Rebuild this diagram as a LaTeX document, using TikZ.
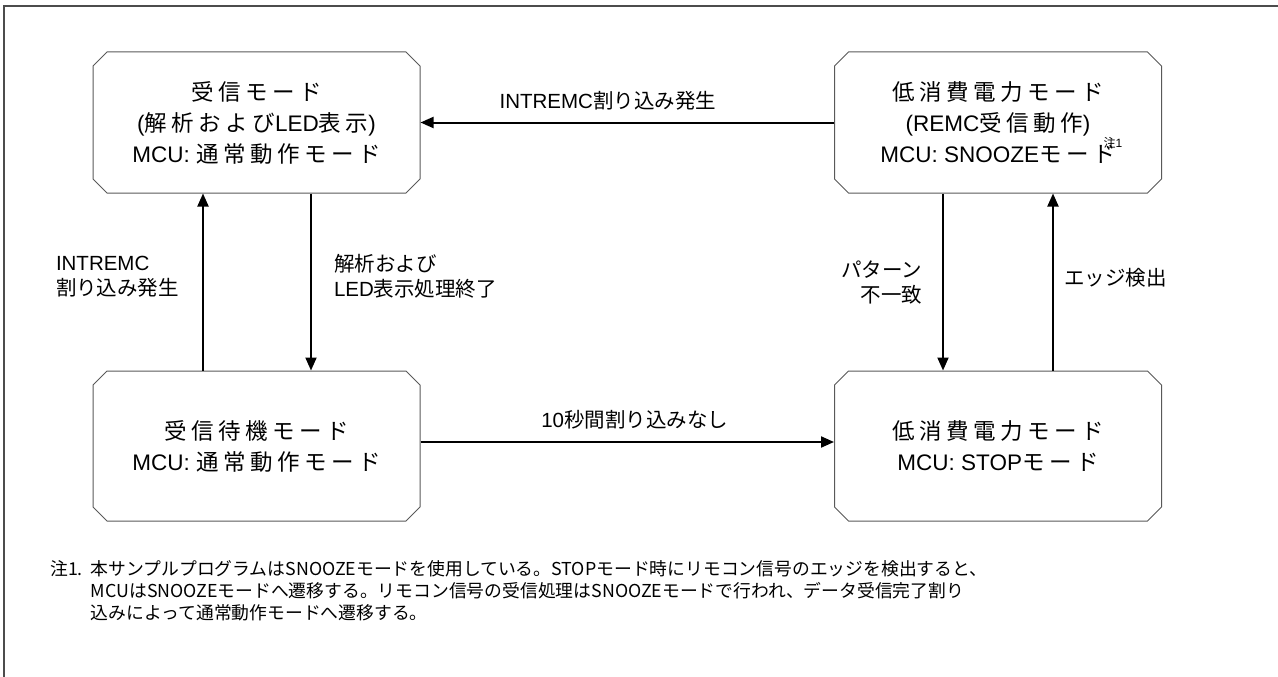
\documentclass[tikz,border=0pt]{standalone}
\usepackage{fontspec}
\setmainfont{Noto Sans CJK JP}
\newfontfamily\modefont[LetterSpace=20]{Noto Sans CJK JP}
\newfontfamily\lat{Liberation Sans}
\usetikzlibrary{shapes.misc,arrows.meta,positioning}

\tikzset{
  mode/.style={chamfered rectangle, chamfered rectangle xsep=7pt, chamfered rectangle ysep=7pt,
    draw=black!65, line width=1pt, minimum width=327pt, minimum height=141pt, inner sep=0pt,
    align=center, font=\modefont\fontsize{22.5}{31}\selectfont},
  trans/.style={line width=2pt, -{Triangle[length=13pt,width=11pt]}},
  lbl/.style={font=\fontsize{20.5}{25}\selectfont, inner sep=0pt},
}

\begin{document}
\begin{tikzpicture}[x=1pt,y=-1pt]
		\useasboundingbox (0,0) rectangle (1278,677);
		\draw[black!70, line width=2pt] (4,677) -- (4,6) -- (1278,6);
		% states
		\node[mode] (rx) at (256.5,122.5) {受信モード\\{\lat(}解析および{\lat LED}表示{\lat)}\\{\lat MCU: }通常動作モード};
		\node[mode] (snooze) at (998,122.5) {低消費電力モード\\{\lat(REMC}受信動作{\lat)}\\{\lat MCU: SNOOZE}モード\rlap{\kern-12pt\raisebox{15pt}{\fontsize{12}{12}\selectfont 注{\lat 1}}}};
		\node[mode, minimum height=150pt] (wait) at (256.5,446) {受信待機モード\\{\lat MCU: }通常動作モード};
		\node[mode, minimum height=150pt] (stop) at (998,446) {低消費電力モード\\{\lat MCU: STOP}モード};
		% transitions
		\draw[trans] (snooze.west) -- (rx.east) node[lbl, pos=0.547, yshift=22pt] (intA) {{\lat INTREMC}割り込み発生};
		\draw[trans] ([yshift=4pt]wait.east) -- ([yshift=4pt]stop.west) node[lbl, pos=0.518, yshift=22pt] (tmo) {{\lat 10}秒間割り込みなし};
		\draw[trans] ([xshift=-53.5pt]wait.north) -- ([xshift=-53.5pt]rx.south) node[lbl, pos=0.528, left=23pt, align=left] (intB) {{\lat INTREMC}\\割り込み発生};
		\draw[trans] ([xshift=54.5pt]rx.south) -- ([xshift=54.5pt]wait.north) node[lbl, pos=0.47, right=22pt, align=left] (done) {解析および\\{\lat LED}表示処理終了};
		\draw[trans] ([xshift=-55pt]snooze.south) -- ([xshift=-55pt]stop.north) node[lbl, pos=0.5, left=20pt, align=right] (nomatch) {パターン\\不一致};
		\draw[trans] ([xshift=55pt]stop.north) -- ([xshift=55pt]snooze.south) node[lbl, pos=0.525, right=10pt] (edge) {エッジ検出};
		% note
		\node[anchor=north west, inner sep=0pt, font=\fontsize{17.8}{22}\selectfont] (fn) at (50,560)
		  {\begin{tabular}{@{}l@{\hspace{8pt}}l@{}}
		  注1. & 本サンプルプログラムはSNOOZEモードを使用している。STOPモード時にリモコン信号のエッジを検出すると、\\
		  & MCUはSNOOZEモードへ遷移する。リモコン信号の受信処理はSNOOZEモードで行われ、データ受信完了割り\\
		  & 込みによって通常動作モードへ遷移する。
		  \end{tabular}};
	    \end{tikzpicture}
\end{document}
